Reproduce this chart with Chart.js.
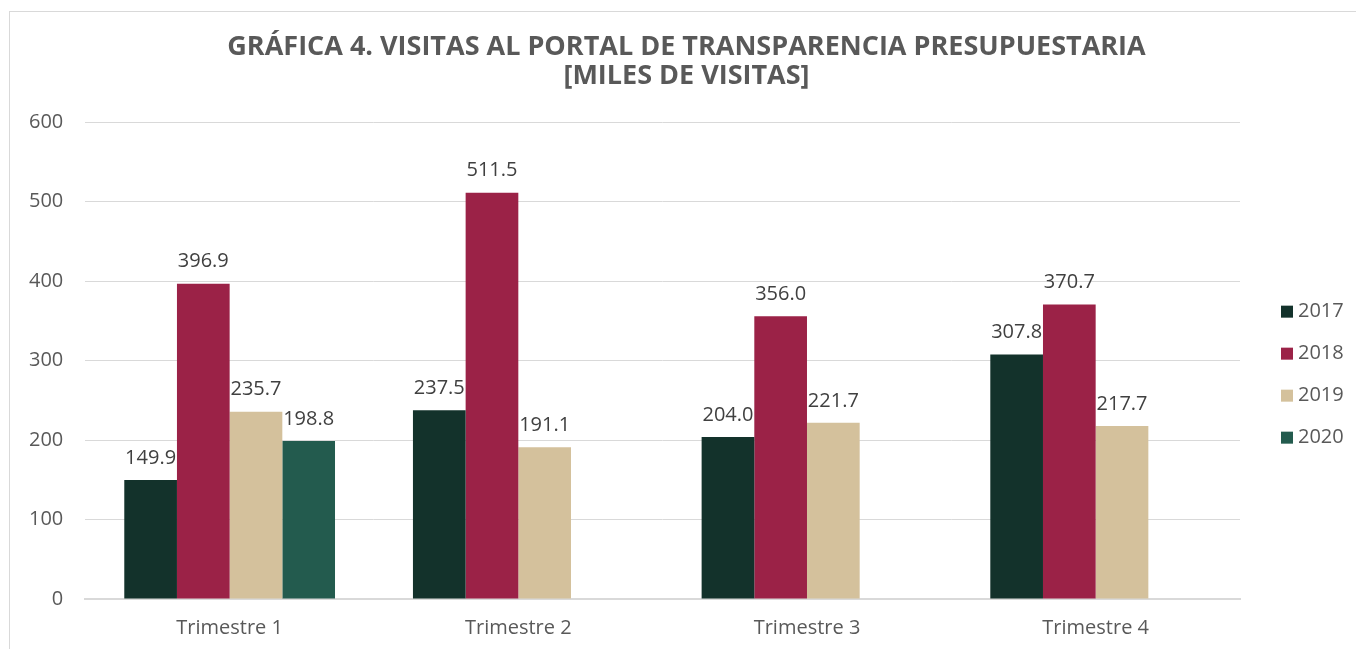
<!DOCTYPE html>
<html>
<head>
<meta charset="utf-8">
<script src="https://cdn.jsdelivr.net/npm/chart.js@4"></script>
<style>
  html, body { margin: 0; padding: 0; background: #fff; overflow: hidden; }
  #frame { position: absolute; left: 9px; top: 11px; width: 1400px; height: 700px; border: 1px solid #d9d9d9; }
  #wrap { position: absolute; left: 0; top: 0; width: 1356px; height: 649px; }
</style>
</head>
<body>
<div id="frame"></div>
<div id="wrap"><canvas id="chart"></canvas></div>
<script>
var categories = ["Trimestre 1", "Trimestre 2", "Trimestre 3", "Trimestre 4"];
var years = ["2017", "2018", "2019", "2020"];
var v2017 = [149.9, 237.5, 204.0, 307.8];
var v2018 = [396.9, 511.5, 356.0, 370.7];
var v2019 = [235.7, 191.1, 221.7, 217.7];
var v2020 = [198.8, null, null, null];
var yTicks = [0, 100, 200, 300, 400, 500, 600];
var colors = ["#13322b", "#9b2247", "#d4c19c", "#235b4e"];

var fontFam = "'Open Sans', 'Noto Sans', sans-serif";

// value labels above each bar
var barLabels = {
  id: "barLabels",
  afterDatasetsDraw: function(chart){
    var ctx = chart.ctx;
    ctx.save();
    ctx.font = "20px " + fontFam;
    ctx.fillStyle = "#404040";
    ctx.textAlign = "center";
    ctx.textBaseline = "bottom";
    chart.data.datasets.forEach(function(ds, i){
      var meta = chart.getDatasetMeta(i);
      meta.data.forEach(function(bar, j){
        var v = ds.data[j];
        if (v == null) return;
        ctx.fillText(v.toFixed(1), bar.x, bar.y - 12);
      });
    });
    ctx.restore();
  }
};

// legend on the right, drawn next to the plot area
var sideLegend = {
  id: "sideLegend",
  afterLayout: function(chart){
    // center the title on the whole frame, not just the plot
    if (chart.titleBlock){
      chart.titleBlock.left = 17;
      chart.titleBlock.right = chart.width;
    }
  },
  afterDraw: function(chart){
    var ctx = chart.ctx, area = chart.chartArea;
    var ds = chart.data.datasets;
    var step = 42;
    var x = area.right + 41;
    var y0 = (area.top + area.bottom) / 2 + 14 - step * (ds.length - 1) / 2;
    ctx.save();
    ctx.font = "20px " + fontFam;
    ctx.textBaseline = "middle";
    ds.forEach(function(d, i){
      var y = y0 + i * step;
      ctx.fillStyle = d.backgroundColor;
      ctx.fillRect(x, y - 6, 12, 12);
      ctx.fillStyle = "#595959";
      ctx.fillText(d.label, x + 17, y);
    });
    ctx.restore();
  }
};

var series = [v2017, v2018, v2019, v2020];
var datasets = series.map(function(d, i){
  return { label: years[i], data: d, backgroundColor: colors[i], borderWidth: 0 };
});

new Chart(document.getElementById("chart"), {
  type: "bar",
  data: { labels: categories, datasets: datasets },
  plugins: [barLabels, sideLegend],
  options: {
    responsive: true,
    maintainAspectRatio: false,
    animation: false,
    layout: { padding: { left: 7, right: 116, top: 33, bottom: -8 } },
    datasets: { bar: { barPercentage: 1, categoryPercentage: 0.73 } },
    plugins: {
      title: {
        display: true,
        text: ["GRÁFICA 4. VISITAS AL PORTAL DE TRANSPARENCIA PRESUPUESTARIA", "[MILES DE VISITAS]"],
        color: "#595959",
        font: { family: fontFam, size: 27, weight: "bold", lineHeight: 1.08 },
        padding: { top: 0, bottom: 31 }
      },
      legend: { display: false },
      tooltip: { enabled: false }
    },
    scales: {
      x: {
        grid: { display: false, drawTicks: false },
        border: { color: "#d9d9d9", width: 2 },
        ticks: { color: "#595959", font: { family: fontFam, size: 20 }, padding: 17 }
      },
      y: {
        min: 0, max: 600,
        afterBuildTicks: function(axis){ axis.ticks = yTicks.map(function(v){ return { value: v }; }); },
        grid: { color: "#d9d9d9", lineWidth: 1, drawTicks: false },
        border: { display: false },
        ticks: { color: "#595959", font: { family: fontFam, size: 20 }, padding: 22 }
      }
    }
  }
});
</script>
</body>
</html>
